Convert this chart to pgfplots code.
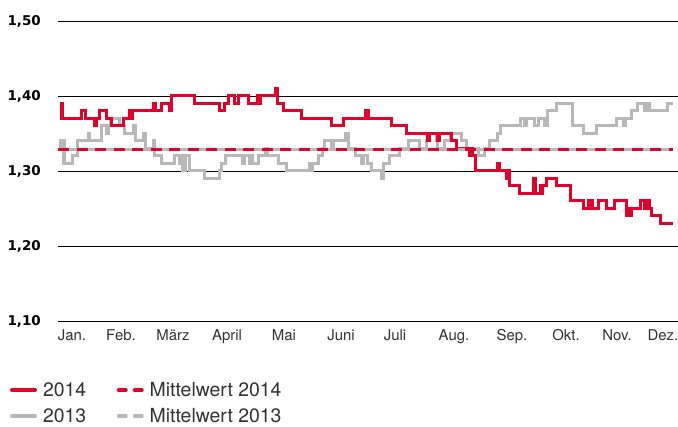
\documentclass[border=0pt]{standalone}
\usepackage{fontspec}
\setmainfont{TeX Gyre Heros}
\newfontfamily\ylabfont{DejaVu Sans}
\usepackage{pgfplots}
\pgfplotsset{compat=1.18}
\definecolor{cred}{RGB}{227,0,43}
\definecolor{cgray}{RGB}{184,184,184}
\definecolor{ctext}{RGB}{50,50,50}
\pgfplotsset{
  legsolidred/.style={legend image code/.code={\draw[line width=4bp,line cap=round,cred,solid] (2bp,0bp) -- (25bp,0bp);}},
  legsolidgray/.style={legend image code/.code={\draw[line width=4bp,line cap=round,cgray,solid] (2bp,0bp) -- (25bp,0bp);}},
  legdashred/.style={legend image code/.code={\draw[line width=4bp,line cap=round,cred,dash pattern=on 7bp off 9bp] (2bp,0bp) -- (25bp,0bp);}},
  legdashgray/.style={legend image code/.code={\draw[line width=4bp,line cap=round,cgray,dash pattern=on 7bp off 9bp] (2bp,0bp) -- (25bp,0bp);}},
}
\begin{document}
\begin{tikzpicture}
\useasboundingbox (0,0) rectangle (678bp,427bp);
\begin{axis}[
  at={(58bp,106bp)}, anchor=south west,
  scale only axis, width=620bp, height=300bp,
  xmin=58, xmax=678, ymin=1.1, ymax=1.5,
  axis line style={draw=none},
  major tick length=0pt,
  ytick={1.1,1.2,1.3,1.4,1.5},
  yticklabels={{1,10},{1,20},{1,30},{1,40},{1,50}},
  ymajorgrids, grid style={black, line width=0.9bp},
  xtick={72,121,173,227,284,341,395,454,512,566,617,663},
  xticklabels={Jan.,Feb.,März,April,Mai,Juni,Juli,Aug.,Sep.,Okt.,Nov.,Dez.},
  xticklabel style={font=\fontsize{15}{15}\selectfont, text=ctext, anchor=north, inner sep=0pt, text height=10.8bp, text depth=3bp, yshift=-9bp},
  yticklabel style={font=\ylabfont\bfseries\fontsize{13.5}{13.5}\selectfont, text=black, anchor=east, inner sep=0pt, xshift=-17bp},
  legend columns=2,
  legend style={at={(axis description cs:-0.0774,-0.208)}, anchor=north west, draw=none, fill=none, inner sep=0pt, outer sep=0pt,
    font=\fontsize{19.5}{19.5}\selectfont, text=ctext,
    nodes={inner sep=0pt, text height=13.5bp, text depth=0bp},
    row sep=12.5bp,
    /tikz/every odd column/.append style={column sep=6bp},
    /tikz/every even column/.append style={column sep=30.5bp}},
]
\addlegendimage{legsolidred}
\addlegendentry{2014}
\addlegendimage{legdashred}
\addlegendentry{Mittelwert 2014}
\addlegendimage{legsolidgray}
\addlegendentry{2013}
\addlegendimage{legdashgray}
\addlegendentry{Mittelwert 2013}

% 2013
\addplot[cgray, line width=3bp, const plot, forget plot] coordinates {
(60,1.33)(61,1.34)(64,1.31)(72,1.32)(77,1.34)(88,1.35)(89,1.34)(101,1.36)(106,1.35)(108,1.36)(110,1.37)(119,1.36)(124,1.35)(133,1.36)(135,1.34)(143,1.35)(145,1.33)(153,1.34)(154,1.32)(161,1.31)(174,1.32)(179,1.31)(180,1.32)(182,1.30)(185,1.32)(189,1.30)(204,1.29)(219,1.30)(221,1.31)(225,1.32)(242,1.31)(244,1.32)(249,1.31)(251,1.32)(252,1.31)(258,1.32)(265,1.33)(267,1.32)(278,1.31)(286,1.30)(309,1.31)(311,1.30)(312,1.31)(318,1.32)(322,1.33)(324,1.34)(331,1.33)(333,1.34)(345,1.35)(348,1.33)(355,1.32)(361,1.31)(363,1.32)(367,1.31)(371,1.30)(381,1.29)(383,1.31)(389,1.32)(399,1.33)(408,1.34)(419,1.33)(426,1.34)(428,1.35)(436,1.34)(437,1.33)(444,1.34)(450,1.35)(461,1.34)(466,1.33)(478,1.32)(484,1.33)(489,1.34)(497,1.35)(500,1.36)(520,1.37)(524,1.36)(526,1.37)(534,1.36)(538,1.37)(544,1.36)(547,1.38)(556,1.39)(572,1.36)(583,1.35)(596,1.36)(616,1.37)(623,1.36)(625,1.37)(631,1.38)(637,1.39)(644,1.38)(646,1.39)(649,1.38)(667,1.39)(673,1.39)
};
% 2014
\addplot[cred, line width=3bp, const plot, forget plot] coordinates {
(60,1.39)(62,1.37)(81,1.38)(85,1.37)(94,1.36)(96,1.37)(99,1.38)(106,1.37)(111,1.36)(123,1.37)(129,1.38)(131,1.37)(132,1.38)(153,1.39)(155,1.38)(161,1.39)(169,1.38)(171,1.40)(194,1.39)(219,1.38)(224,1.39)(228,1.40)(234,1.39)(238,1.40)(248,1.39)(257,1.40)(259,1.39)(260,1.40)(275,1.41)(277,1.39)(283,1.38)(301,1.37)(331,1.36)(343,1.37)(365,1.38)(368,1.37)(391,1.36)(406,1.35)(427,1.34)(429,1.35)(437,1.34)(439,1.35)(451,1.34)(456,1.33)(469,1.32)(471,1.33)(472,1.32)(475,1.30)(497,1.31)(499,1.30)(506,1.29)(508,1.30)(509,1.28)(519,1.27)(533,1.29)(535,1.27)(540,1.28)(541,1.27)(542,1.28)(546,1.29)(556,1.28)(570,1.26)(583,1.25)(588,1.26)(589,1.25)(591,1.26)(592,1.25)(598,1.26)(606,1.25)(614,1.26)(626,1.24)(628,1.25)(629,1.24)(631,1.25)(640,1.26)(644,1.25)(647,1.26)(649,1.25)(651,1.24)(660,1.23)(673,1.23)
};
% Mittelwerte
\addplot[cgray, line width=3bp, forget plot, dash pattern=on 7.5bp off 11bp, dash phase=7.5bp] coordinates {(58,1.328)(673,1.328)};
\addplot[cred, line width=3bp, forget plot, dash pattern=on 11bp off 7.5bp] coordinates {(58,1.329)(673,1.329)};
\end{axis}
\end{tikzpicture}
\end{document}
